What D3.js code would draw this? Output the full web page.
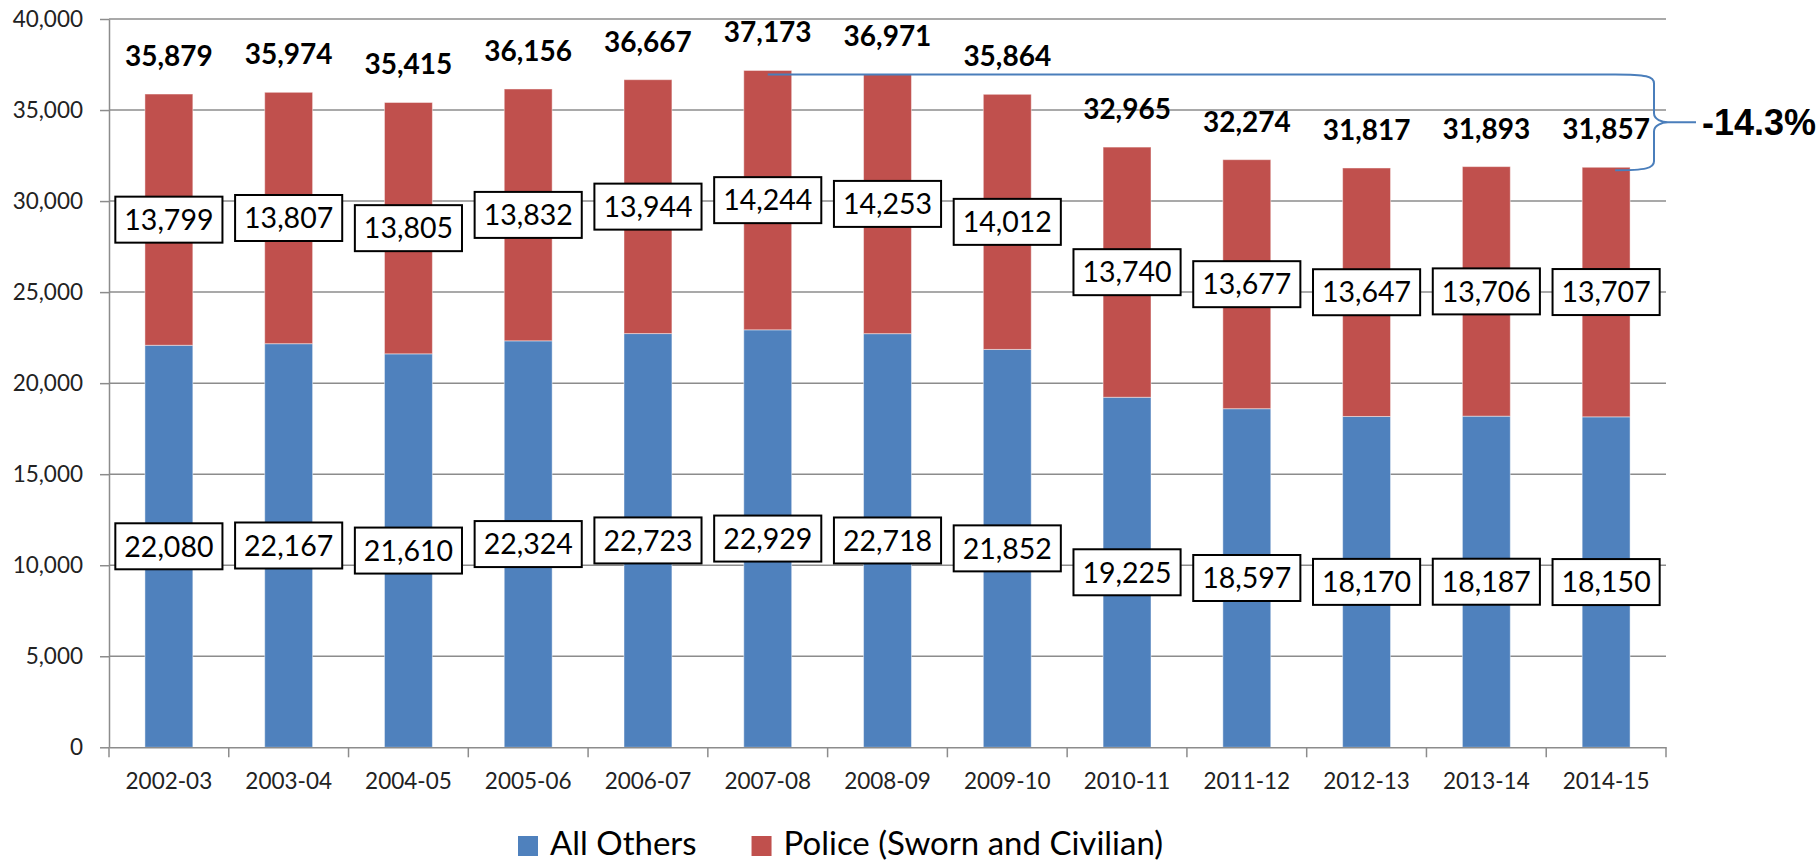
<!DOCTYPE html>
<html>
<head>
<meta charset="utf-8">
<script src="https://cdn.jsdelivr.net/npm/d3@7"></script>
<style>
  html, body { margin: 0; padding: 0; background: #fff; }
  svg { display: block; font-family: Lato, "Open Sans", sans-serif; }
</style>
</head>
<body>
<div id="chart"></div>
<script>
var years = ['2002-03','2003-04','2004-05','2005-06','2006-07','2007-08','2008-09','2009-10','2010-11','2011-12','2012-13','2013-14','2014-15'];
var allOthers = [22080, 22167, 21610, 22324, 22723, 22929, 22718, 21852, 19225, 18597, 18170, 18187, 18150];
var police = [13799, 13807, 13805, 13832, 13944, 14244, 14253, 14012, 13740, 13677, 13647, 13706, 13707];
var yTicks = [0, 5000, 10000, 15000, 20000, 25000, 30000, 35000, 40000];
var seriesNames = ['All Others', 'Police (Sworn and Civilian)'];
var changeLabel = '-14.3%';

var width = 1820, height = 863;
var plotLeft = 109, plotRight = 1666, plotTop = 19, plotBottom = 747.3;
var colors = ['#4f81bd', '#c0504d'];
var fmt = d3.format(',');

var rows = years.map(function (y, i) {
  return { year: y, others: allOthers[i], police: police[i], total: allOthers[i] + police[i] };
});

var svg = d3.select('#chart').append('svg')
    .attr('width', width)
    .attr('height', height);

var x = d3.scaleBand()
    .domain(years)
    .range([plotLeft, plotRight])
    .paddingInner(0.6)
    .paddingOuter(0.3);

var y = d3.scaleLinear()
    .domain([0, 40000])
    .range([plotBottom, plotTop]);

// gridlines
svg.append('g')
  .selectAll('line')
  .data(yTicks.slice(1))
  .join('line')
    .attr('x1', plotLeft).attr('x2', plotRight)
    .attr('y1', function (d) { return y(d); })
    .attr('y2', function (d) { return y(d); })
    .attr('stroke', '#8c8c8c')
    .attr('stroke-width', 1.5);

// y axis
var yAxis = svg.append('g')
    .attr('transform', 'translate(' + plotLeft + ',0)')
    .call(d3.axisLeft(y).tickValues(yTicks).tickFormat(fmt).tickSize(9).tickSizeOuter(0).tickPadding(17));
yAxis.selectAll('path, line').attr('stroke', '#8c8c8c').attr('stroke-width', 1.5);
yAxis.selectAll('text')
    .attr('font-family', 'Lato, sans-serif')
    .attr('font-size', 22.5)
    .attr('fill', '#222');

// bars
var stack = d3.stack().keys(['others', 'police']);
var layers = stack(rows);

svg.append('g')
  .selectAll('g')
  .data(layers)
  .join('g')
    .attr('fill', function (d, i) { return colors[i]; })
  .selectAll('rect')
  .data(function (d) { return d; })
  .join('rect')
    .attr('x', function (d) { return x(d.data.year); })
    .attr('y', function (d) { return y(d[1]); })
    .attr('width', x.bandwidth())
    .attr('height', function (d) { return y(d[0]) - y(d[1]); })
    .attr('stroke', 'rgba(255,255,255,0.45)')
    .attr('stroke-width', 1);

// x axis
var xAxis = svg.append('g')
    .attr('transform', 'translate(0,' + plotBottom + ')')
    .call(d3.axisBottom(x).tickSize(0).tickPadding(34));
xAxis.select('path').attr('stroke', '#8c8c8c').attr('stroke-width', 1.5);
xAxis.selectAll('text')
    .attr('font-family', 'Lato, sans-serif')
    .attr('font-size', 22.5)
    .attr('fill', '#222')
    .attr('dy', '0.36em')
    .attr('y', 34);
var step = x.step();
svg.append('g')
  .selectAll('line')
  .data(d3.range(years.length + 1))
  .join('line')
    .attr('x1', function (i) { return plotLeft + i * step; })
    .attr('x2', function (i) { return plotLeft + i * step; })
    .attr('y1', plotBottom).attr('y2', plotBottom + 10)
    .attr('stroke', '#8c8c8c')
    .attr('stroke-width', 1.5);

// boxed segment labels
function boxedLabels(layer) {
  var g = svg.append('g')
    .selectAll('g')
    .data(layer)
    .join('g')
      .attr('transform', function (d) {
        return 'translate(' + (x(d.data.year) + x.bandwidth() / 2) + ',' + y((d[0] + d[1]) / 2) + ')';
      });
  g.append('rect')
      .attr('fill', '#fff')
      .attr('stroke', '#000')
      .attr('stroke-width', 2);
  var txt = g.append('text')
      .attr('text-anchor', 'middle')
      .attr('dy', '0.36em')
      .attr('font-size', 28.5)
      .attr('fill', '#000')
      .text(function (d) { return fmt(d[1] - d[0]); });
  txt.each(function () {
    var w = this.getComputedTextLength();
    d3.select(this.parentNode).select('rect')
      .attr('x', -w / 2 - 9)
      .attr('y', -23)
      .attr('width', w + 18)
      .attr('height', 46);
  });
}
boxedLabels(layers[0]);
boxedLabels(layers[1]);

// totals
svg.append('g')
  .selectAll('text')
  .data(rows)
  .join('text')
    .attr('x', function (d) { return x(d.year) + x.bandwidth() / 2; })
    .attr('y', function (d) { return y(d.total) - 28; })
    .attr('text-anchor', 'middle')
    .attr('font-size', 28)
    .attr('font-weight', 'bold')
    .attr('fill', '#000')
    .text(function (d) { return fmt(d.total); });

// bracket from the peak to the last year
var peak = rows[d3.maxIndex(rows, function (d) { return d.total; })];
var last = rows[rows.length - 1];
var yt = y(peak.total) + 4, yb = y(last.total) + 3, ym = (yt + yb) / 2;
var x0 = x(peak.year) + x.bandwidth() / 2;
var xe = x(last.year) + x.bandwidth() / 2 + 9;
var bx = plotRight - 12, tip = bx + 14;
var brace = d3.path();
brace.moveTo(x0, yt);
brace.lineTo(xe, yt);
brace.bezierCurveTo(bx - 8, yt, bx, yt + 2, bx, yt + 9);
brace.lineTo(bx, ym - 9);
brace.bezierCurveTo(bx, ym - 3, tip - 6, ym, tip, ym);
brace.bezierCurveTo(tip - 6, ym, bx, ym + 3, bx, ym + 9);
brace.lineTo(bx, yb - 9);
brace.bezierCurveTo(bx, yb - 2, bx - 8, yb, xe, yb);
brace.moveTo(tip, ym);
brace.lineTo(tip + 28, ym);
svg.append('path')
    .attr('d', brace.toString())
    .attr('fill', 'none')
    .attr('stroke', '#4a7ebb')
    .attr('stroke-width', 2);

svg.append('text')
    .attr('x', tip + 34)
    .attr('y', ym)
    .attr('dy', '0.36em')
    .attr('font-family', '"Liberation Sans", Arial, sans-serif')
    .attr('font-weight', 'bold')
    .attr('font-size', 36)
    .attr('fill', '#000')
    .text(changeLabel);

// legend
var legend = svg.append('g').attr('transform', 'translate(518,846)');
var lx = 0;
seriesNames.forEach(function (name, i) {
  var item = legend.append('g').attr('transform', 'translate(' + lx + ',0)');
  item.append('rect')
      .attr('x', 0).attr('y', -10)
      .attr('width', 20).attr('height', 20)
      .attr('fill', colors[i]);
  var t = item.append('text')
      .attr('x', 32)
      .attr('y', 9)
      .attr('font-size', 33)
      .attr('fill', '#000')
      .text(name);
  lx += 32 + t.node().getComputedTextLength() + 55;
});
</script>
</body>
</html>
